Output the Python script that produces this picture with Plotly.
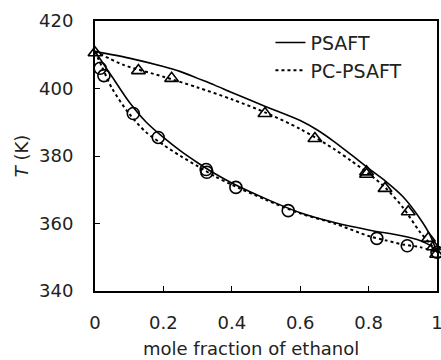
import plotly.graph_objects as go

# Experimental data: liquid (circles) and vapour (triangles)
liq_x = [0.015, 0.026, 0.112, 0.185, 0.325, 0.327, 0.412, 0.565, 0.824, 0.913, 1.0]
liq_T = [406.0, 403.8, 392.6, 385.5, 376.0, 375.2, 370.7, 363.8, 355.6, 353.4, 351.5]
vap_x = [0.0, 0.127, 0.224, 0.497, 0.643, 0.794, 0.794, 0.848, 0.916, 0.975, 0.99, 0.999]
vap_T = [410.6, 405.3, 403.0, 392.6, 385.2, 375.3, 374.6, 370.4, 363.5, 355.6, 353.1, 350.9]

# PSAFT curves
ps_bub_x = [0, 0.02, 0.05, 0.1, 0.15, 0.2, 0.25, 0.3, 0.35, 0.4, 0.5, 0.6, 0.7, 0.8, 0.9, 0.95, 0.98, 1.0]
ps_bub_T = [411, 408, 403.5, 396, 390, 385.5, 381.5, 378, 374.8, 372, 367.3, 363.2, 360.3, 358.1, 356.3, 355, 353.5, 351.5]
ps_dew_x = [0, 0.1, 0.2, 0.25, 0.3, 0.35, 0.4, 0.5, 0.6, 0.65, 0.7, 0.75, 0.8, 0.85, 0.9, 0.95, 0.98, 1.0]
ps_dew_T = [411, 409, 406.5, 405, 403, 401, 398.8, 394.6, 390.5, 387.7, 384.2, 380.3, 376.3, 372.5, 368, 361.5, 356.5, 351.5]

# PC-PSAFT curves
pc_bub_x = [0, 0.02, 0.05, 0.1, 0.15, 0.2, 0.25, 0.3, 0.35, 0.4, 0.5, 0.6, 0.7, 0.8, 0.85, 0.9, 0.95, 1.0]
pc_bub_T = [411, 406.5, 400, 392.5, 387, 383.3, 380, 377, 374, 371.5, 367, 363, 360, 356.3, 355, 353.8, 353, 351.5]
pc_dew_x = [0, 0.083, 0.2, 0.3, 0.4, 0.5, 0.6, 0.7, 0.75, 0.8, 0.85, 0.9, 0.95, 0.98, 1.0]
pc_dew_T = [411, 407, 403.5, 400.3, 396.8, 392.8, 388, 382, 378.5, 374.8, 370.5, 364.8, 357.5, 354, 351.5]

x_ticks = [0, 0.2, 0.4, 0.6, 0.8, 1]
x_ticktext = ["0", "0.2", "0.4", "0.6", "0.8", "1"]
y_ticks = [340, 360, 380, 400, 420]

FONT = "DejaVu Sans, Arial, sans-serif"
fig = go.Figure()

fig.add_trace(go.Scatter(x=ps_bub_x + [None] + ps_dew_x, y=ps_bub_T + [None] + ps_dew_T,
                         mode="lines", name="PSAFT", connectgaps=False,
                         line=dict(color="black", width=1.6, shape="spline", smoothing=0.8)))
fig.add_trace(go.Scatter(x=pc_bub_x + [None] + pc_dew_x, y=pc_bub_T + [None] + pc_dew_T,
                         mode="lines", name="PC-PSAFT", connectgaps=False,
                         line=dict(color="black", width=2, dash="3px,3px", shape="spline", smoothing=0.8)))
fig.add_trace(go.Scatter(x=liq_x, y=liq_T, mode="markers", showlegend=False, cliponaxis=False,
                         marker=dict(symbol="circle-open", size=12, color="black", line=dict(width=1.6))))
fig.add_trace(go.Scatter(x=vap_x, y=vap_T, mode="markers", showlegend=False, cliponaxis=False,
                         marker=dict(symbol="triangle-up-open", size=12, color="black", line=dict(width=1.6))))

fig.update_layout(
    width=441, height=360,
    margin=dict(l=95, r=4, t=21, b=69),
    paper_bgcolor="white", plot_bgcolor="white",
    font=dict(family=FONT, size=18, color="#222"),
    legend=dict(x=0.513, y=0.99, xanchor="left", yanchor="top", bgcolor="rgba(0,0,0,0)",
                font=dict(size=19, color="#222"), tracegroupgap=0),
    showlegend=True,
    annotations=[dict(text="mole fraction of ethanol", xref="paper", yref="paper",
                      x=0.456, y=-0.212, xanchor="center", yanchor="middle",
                      showarrow=False, font=dict(size=18, color="#222"))],
)
fig.update_xaxes(range=[0, 1], tickvals=x_ticks, ticktext=x_ticktext,
                 ticks="inside", ticklen=5, tickcolor="black", tickwidth=1, automargin=False,
                 showline=True, linecolor="black", linewidth=2, mirror=True, showgrid=False, zeroline=False,
                 ticklabelstandoff=14, ticklabeloverflow="allow")
fig.update_yaxes(range=[340, 420], tickvals=y_ticks,
                 ticks="inside", ticklen=5, tickcolor="black", tickwidth=1, automargin=False,
                 showline=True, linecolor="black", linewidth=2, mirror=True, showgrid=False, zeroline=False,
                 ticklabelstandoff=16, ticklabeloverflow="allow",
                 title=dict(text="<i>T</i> (K)", font=dict(size=18), standoff=6))

fig.write_html("out.html", config={"displayModeBar": False},
               post_script="document.body.style.margin='0';document.body.style.overflow='hidden';")
